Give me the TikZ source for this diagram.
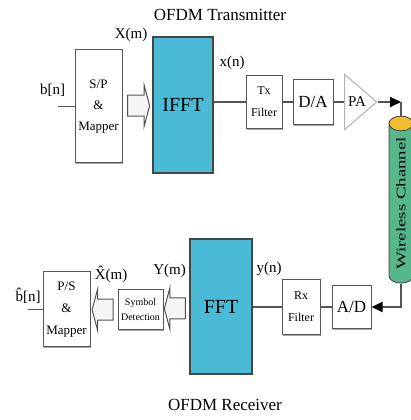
\documentclass[tikz,border=0pt]{standalone}
\usepackage{fontspec}
\setmainfont{Liberation Serif}
\usetikzlibrary{calc, positioning, shapes.geometric, shapes.arrows, shadows, arrows.meta}

\definecolor{fftblue}{RGB}{75,186,214}
\definecolor{chgreen}{RGB}{86,182,140}
\definecolor{chtop}{RGB}{240,188,48}
\definecolor{wire}{RGB}{85,85,85}

\begin{document}
\begin{tikzpicture}[x=10pt, y=10pt,
  blk/.style={draw=wire, fill=white, line width=1pt, align=center, inner sep=1pt,
    drop shadow={shadow xshift=.6pt, shadow yshift=-1.5pt, fill=gray!70, opacity=1}},
  fftbox/.style={draw=gray!55!black, fill=fftblue, line width=2pt, font=\fontsize{20}{24}\selectfont},
  amp/.style={isosceles triangle, isosceles triangle stretches, draw=gray!60, fill=white,
    line width=1pt, minimum width=55pt, minimum height=32pt, inner sep=0pt,
    font=\fontsize{15}{18}\selectfont},
  cyl/.style={cylinder, rotate=90, draw=gray!50!black, line width=.8pt, aspect=1.6,
    cylinder uses custom fill, cylinder body fill=chgreen, cylinder end fill=chtop,
    minimum width=24pt, minimum height=167pt, inner sep=0pt, font=\fontsize{13}{15}\selectfont},
  lbl/.style={font=\fontsize{15}{18}\selectfont, inner sep=0pt},
  ttl/.style={font=\fontsize{17}{20}\selectfont},
  conn/.style={draw=wire, line width=1.8pt},
  tip/.style={-{Triangle[length=11pt, width=10pt, color=black]}},
  barr/.style={single arrow, draw=gray!65!black, fill=gray!8, line width=1pt,
    inner xsep=0pt, inner ysep=10pt, minimum height=22pt,
    single arrow head extend=10pt, single arrow tip angle=150}]
\useasboundingbox (0,0) rectangle (41,42);

% transmitter
\node[blk, minimum width=47pt, minimum height=113pt, font=\fontsize{13}{21}\selectfont] (spm) at (9.85,31.35) {S/P\\\&\\Mapper};
\node[fftbox, minimum width=60pt, minimum height=136pt] (ifft) at (18.3,31.5) {IFFT};
\node[blk, minimum width=36pt, minimum height=53pt, font=\fontsize{12}{22}\selectfont] (txf) at (26.4,31.8) {Tx\\Filter};
\node[blk, minimum width=40pt, minimum height=45pt, font=\fontsize{17}{20}\selectfont] (da) at (31.3,31.8) {D/A};
\node[amp, anchor=apex] (pa) at (37.8,31.8) {PA};
\node[cyl] (cyl) at (40.1,21.65) {\scalebox{1.45}[1]{Wireless Channel}};

% receiver
\node[blk, minimum width=39pt, minimum height=43pt, font=\fontsize{17}{20}\selectfont] (ad) at (35.15,11.3) {A/D};
\node[blk, minimum width=38pt, minimum height=55pt, font=\fontsize{12}{22}\selectfont] (rxf) at (30.1,11.3) {Rx\\Filter};
\node[fftbox, minimum width=62pt, minimum height=135pt] (fft) at (22.1,11.3) {FFT};
\node[blk, minimum width=45pt, minimum height=40pt, font=\fontsize{10}{15}\selectfont] (symd) at (14.05,11) {Symbol\\Detection};
\node[blk, minimum width=47pt, minimum height=75pt, font=\fontsize{13}{22}\selectfont] (psm) at (6.65,11.05) {P/S\\\&\\Mapper};

% labels
\node[ttl] (ttx) at (22.0,40.5) {OFDM Transmitter};
\node[ttl] (trx) at (22.5,1.5) {OFDM Receiver};
\node[lbl] (bn) at (5.25,33.0) {b[n]};
\node[lbl] (Xm) at (13.1,38.5) {X(m)};
\node[lbl] (xn) at (23.2,35.7) {x(n)};
\node[lbl] (yn) at (26.9,15.1) {y(n)};
\node[lbl] (Ym) at (16.95,14.9) {Y(m)};
\node[lbl] (Xh) at (11.1,14.6) {\^{X}(m)};
\node[lbl] (bh) at (2.8,12.4) {\^{b}[n]};

\coordinate (bin) at (5.8,31.35);
\coordinate (bhin) at (2.8,11.05);

% block arrows
\node[barr] (a1) at ($(spm.east)!.5!(ifft.west)$) {};
\node[barr, shape border rotate=180, minimum height=21pt] (a2) at ($(fft.west)!.5!(symd.east)$) {};
\node[barr, shape border rotate=180, minimum height=21pt] (a3) at ($(symd.west)!.5!(psm.east)$) {};

% wires
\draw[conn] (bin) -- (spm);
\draw[conn] (ifft.east |- txf) -- (txf) -- (da) -- (pa.lower side);
\draw[conn, tip] (pa.apex) -- (pa.apex -| cyl.east);
\draw[conn] (pa.apex -| cyl.east) -- (cyl.east);
\draw[conn, tip] (cyl.west) -- (cyl.west |- ad) -- (ad);
\draw[conn] (fft) -- (rxf) -- (ad);
\draw[conn] (bhin) -- (psm);
\end{tikzpicture}
\end{document}
